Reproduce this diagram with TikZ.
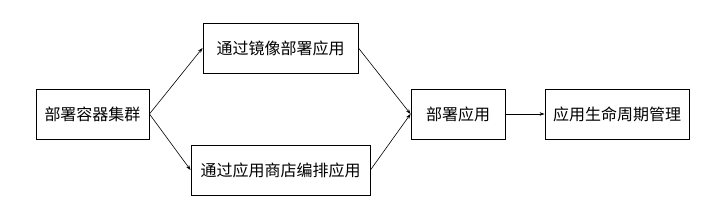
\documentclass[tikz,border=0pt]{standalone}
\usepackage{fontspec}
\setmainfont{Noto Sans CJK SC}
\usepackage{tikz}
\usetikzlibrary{arrows.meta, positioning}

\begin{document}
\begin{tikzpicture}[
  x=1pt, y=1pt,
  stepbox/.style={draw=black, line width=0.9pt, minimum height=50pt, inner sep=0pt, align=center, font=\fontsize{16}{19}\selectfont},
  flow/.style={-{Stealth[length=5pt, width=3.5pt]}, line width=0.6pt}
]
  \useasboundingbox (0,0) rectangle (705,224);

  \node[stepbox, minimum width=113pt] (cluster) at (92.5, 110) {部署容器集群};
  \node[stepbox, minimum width=155pt] (image) at (280.5, 176) {通过镜像部署应用};
  \node[stepbox, minimum width=179pt] (store) at (280.5, 54) {通过应用商店编排应用};
  \node[stepbox, minimum width=94pt] (deploy) at (458, 110) {部署应用};
  \node[stepbox, minimum width=144pt] (life) at (617, 110) {应用生命周期管理};

  \draw[flow] (cluster.east) -- (image.west);
  \draw[flow] (cluster.east) -- (store.west);
  \draw[flow] (image.east) -- (deploy.west);
  \draw[flow] (store.east) -- (deploy.west);
  \draw[flow] (deploy.east) -- (life.west);
\end{tikzpicture}
\end{document}
